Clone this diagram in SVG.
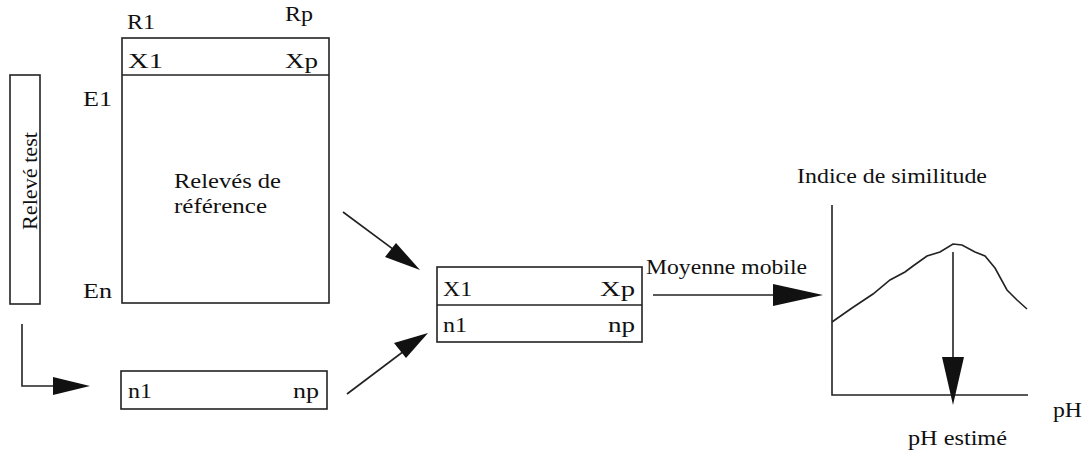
<svg xmlns="http://www.w3.org/2000/svg" width="1089" height="451" viewBox="0 0 1089 451">
<defs>
<style>
.box{fill:none;stroke:#222;stroke-width:1.6}
.ln{fill:none;stroke:#222;stroke-width:1.6}
.hd{fill:#111;stroke:none}
</style>
</defs>
<rect width="1089" height="451" fill="#fff"/>
<g font-family="Liberation Serif, Times New Roman, Times, serif" font-size="21" fill="#111">
<g id="releve-test">
<rect class="box" x="10" y="75" width="30" height="229"/>
<text transform="translate(37,181) rotate(-90)" text-anchor="middle" textLength="98" lengthAdjust="spacingAndGlyphs">Relevé test</text>
</g>
<g id="releves-reference">
<rect class="box" x="122" y="38" width="207" height="265"/>
<line class="ln" x1="122" y1="75" x2="329" y2="75"/>
<text x="127" y="29" textLength="28" lengthAdjust="spacingAndGlyphs">R1</text>
<text x="285" y="21" textLength="28" lengthAdjust="spacingAndGlyphs">Rp</text>
<text x="128" y="68" textLength="35" lengthAdjust="spacingAndGlyphs">X1</text>
<text x="285" y="68" textLength="33" lengthAdjust="spacingAndGlyphs">Xp</text>
<text x="83" y="106" textLength="29" lengthAdjust="spacingAndGlyphs">E1</text>
<text x="83" y="298" textLength="29" lengthAdjust="spacingAndGlyphs">En</text>
<text x="174" y="188" textLength="107" lengthAdjust="spacingAndGlyphs">Relevés de</text>
<text x="174" y="213" textLength="93" lengthAdjust="spacingAndGlyphs">référence</text>
</g>
<g id="n-vector">
<rect class="box" x="121" y="371" width="206" height="38"/>
<text x="128" y="398" textLength="24" lengthAdjust="spacingAndGlyphs">n1</text>
<text x="293" y="398" textLength="26" lengthAdjust="spacingAndGlyphs">np</text>
</g>
<g id="result">
<rect class="box" x="437" y="267" width="205" height="75"/>
<line class="ln" x1="437" y1="305" x2="642" y2="305"/>
<text x="443" y="296" textLength="29" lengthAdjust="spacingAndGlyphs">X1</text>
<text x="600" y="296" textLength="35" lengthAdjust="spacingAndGlyphs">Xp</text>
<text x="443" y="332" textLength="24" lengthAdjust="spacingAndGlyphs">n1</text>
<text x="608" y="332" textLength="27" lengthAdjust="spacingAndGlyphs">np</text>
</g>
<g id="graph">
<text x="797" y="183" textLength="190" lengthAdjust="spacingAndGlyphs">Indice de similitude</text>
<polyline class="ln" points="832,205 832,395 1028,395"/>
<path class="ln" d="M832,322 L852,308 L873,294 L890,280 L905,272 L913,266 L927,256 L940,252 L953,244 L962,245 L975,252 L985,256 L995,268 L1007,290 L1017,300 L1027,309"/>
<text x="1053" y="417" textLength="29" lengthAdjust="spacingAndGlyphs">pH</text>
<text x="908" y="445" textLength="99" lengthAdjust="spacingAndGlyphs">pH estimé</text>
</g>
<g id="connectors">
<polyline class="ln" points="22,324 22,386 60,386"/>
<polygon class="hd" points="53,377 90,386 53,395"/>
<line class="ln" x1="343" y1="212" x2="405" y2="258"/>
<polygon class="hd" points="420,270 385,257 396,243"/>
<line class="ln" x1="347" y1="394" x2="412" y2="345"/>
<polygon class="hd" points="428,333 406,358 394,343"/>
<line class="ln" x1="653" y1="295" x2="780" y2="295"/>
<polygon class="hd" points="773,284 823,295 773,306"/>
<line class="ln" x1="953" y1="252" x2="953" y2="360"/>
<polygon class="hd" points="942,357 964,357 953,405"/>
<text x="646" y="274" textLength="161" lengthAdjust="spacingAndGlyphs">Moyenne mobile</text>
</g>
</g>
</svg>
